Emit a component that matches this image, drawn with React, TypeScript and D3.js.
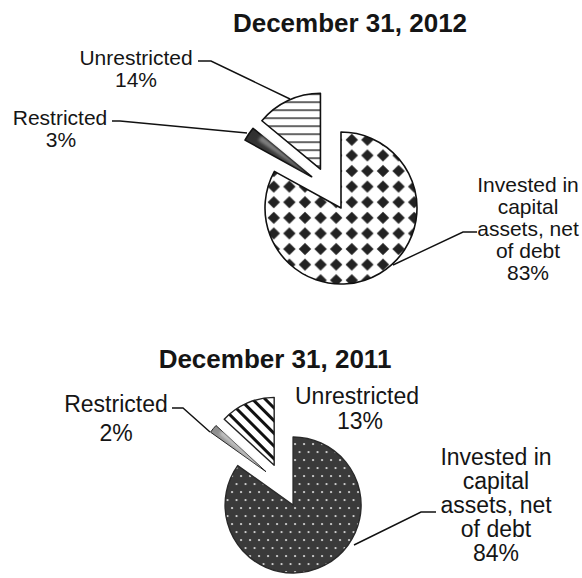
import React from "react";
import * as d3 from "d3";

const categories = ["Invested in capital assets, net of debt", "Restricted", "Unrestricted"];
const values2012 = [83, 3, 14];
const values2011 = [84, 2, 13];
const titles = ["December 31, 2012", "December 31, 2011"];

type Slice = d3.PieArcDatum<number>;

const pieGen = d3.pie<number>().sort(null).value((d) => d);

function explode(s: Slice, d: number) {
  const mid = (s.startAngle + s.endAngle) / 2;
  return [d * Math.sin(mid), -d * Math.cos(mid)];
}

export default function App() {
  const W = 582, H = 578;
  const top = { cx: 329.8, cy: 189.1, r: 76, ex: 22 };
  const bot = { cx: 283, cy: 485.5, r: 68, ex: 22 };
  const arcTop = d3.arc<Slice>().innerRadius(0).outerRadius(top.r);
  const arcBot = d3.arc<Slice>().innerRadius(0).outerRadius(bot.r);
  const pTop = pieGen(values2012);
  const pBot = pieGen(values2011);

  const fillsTop = ["url(#diamonds)", "url(#restrTop)", "url(#hlines)"];
  const fillsBot = ["url(#dots)", "url(#restrBot)", "url(#dlines)"];

  const hiTop = d3.arc<any>().innerRadius(6).outerRadius(top.r * 0.85);
  const hiBot = d3.arc<any>().innerRadius(6).outerRadius(bot.r * 0.88);

  const textCol = "#151515";
  const font = "'Liberation Sans', Arial, Helvetica, sans-serif";

  const linesTop = ["Invested in", "capital", "assets, net", "of debt", "83%"];
  const linesBot = ["Invested in", "capital", "assets, net", "of debt", "84%"];

  return (
    <svg width={W} height={H} style={{ position: "absolute", left: 0, top: 0, background: "#fff" }} fontFamily={font}>
      <defs>
        <pattern id="diamonds" patternUnits="userSpaceOnUse" width={15.6} height={15.6} x={3} y={2}>
          <rect width={15.6} height={15.6} fill="#fff" />
          <path d="M7.8,1.6 L14,7.8 L7.8,14 L1.6,7.8 Z" fill="#222" />
        </pattern>
        <pattern id="hlines" patternUnits="userSpaceOnUse" width={8} height={8} y={1}>
          <rect width={8} height={8} fill="#fff" />
          <line x1={0} x2={8} y1={4} y2={4} stroke="#111" strokeWidth={1.3} />
        </pattern>
        <pattern id="dlines" patternUnits="userSpaceOnUse" width={9} height={9} patternTransform="rotate(45)">
          <rect width={9} height={9} fill="#fff" />
          <line x1={0} x2={9} y1={4.5} y2={4.5} stroke="#111" strokeWidth={3} />
        </pattern>
        <pattern id="dots" patternUnits="userSpaceOnUse" width={9} height={16}>
          <rect width={9} height={16} fill="#3a3a3a" />
          <circle cx={2} cy={3} r={1.1} fill="#e0e0e0" />
          <circle cx={6.5} cy={11} r={1.1} fill="#e0e0e0" />
        </pattern>
        <linearGradient id="restrTop" x1="0" y1="0" x2="1" y2="1">
          <stop offset="0" stopColor="#2e2e2e" />
          <stop offset="1" stopColor="#454545" />
        </linearGradient>
        <linearGradient id="restrBot" x1="0" y1="0" x2="1" y2="1">
          <stop offset="0" stopColor="#8a8a8a" />
          <stop offset="1" stopColor="#b8b8b8" />
        </linearGradient>
        <filter id="soft" x="-50%" y="-50%" width="200%" height="200%">
          <feGaussianBlur stdDeviation="1.6" />
        </filter>
      </defs>

      <text x={350} y={32} textAnchor="middle" fontSize={26} fontWeight="bold" fill={textCol}>{titles[0]}</text>
      <text x={275} y={368} textAnchor="middle" fontSize={26} fontWeight="bold" fill={textCol}>{titles[1]}</text>

      <g transform={`translate(${top.cx},${top.cy})`}>
        {pTop.map((s, i) => {
          const [dx, dy] = explode(s, top.ex);
          return (
            <g key={i} transform={`translate(${dx},${dy})`}>
              <path d={arcTop(s) || ""} fill={fillsTop[i]} stroke="#111" strokeWidth={1.6} strokeLinejoin="round" />
              {i === 1 && (
                <path
                  d={hiTop({ startAngle: (s.startAngle + s.endAngle) / 2, endAngle: s.endAngle }) || ""}
                  fill="#9a9a9a"
                  opacity={0.75}
                  filter="url(#soft)"
                />
              )}
            </g>
          );
        })}
      </g>

      <g transform={`translate(${bot.cx},${bot.cy})`}>
        {pBot.map((s, i) => {
          const [dx, dy] = explode(s, bot.ex);
          return (
            <g key={i} transform={`translate(${dx},${dy})`}>
              <path d={arcBot(s) || ""} fill={fillsBot[i]} stroke={i === 0 ? "#2a2a2a" : "#222"} strokeWidth={i === 1 ? 1 : 1.4} strokeLinejoin="round" />
              {i === 1 && (
                <path
                  d={hiBot({ startAngle: (s.startAngle + s.endAngle) / 2, endAngle: s.endAngle }) || ""}
                  fill="#d6d6d6"
                  opacity={0.8}
                  filter="url(#soft)"
                />
              )}
            </g>
          );
        })}
      </g>

      <g fontSize={21} fill={textCol} textAnchor="middle">
        <text x={136} y={65}>{categories[2]}</text>
        <text x={136} y={87}>{values2012[2]}%</text>
        <text x={60} y={125}>{categories[1]}</text>
        <text x={61} y={147}>{values2012[1]}%</text>
        {linesTop.map((t, i) => (
          <text key={i} x={528} y={192 + i * 22}>{t}</text>
        ))}
      </g>
      <g fill="none" stroke="#111" strokeWidth={1.4}>
        <polyline points="198,61 211,61 290,99" />
        <polyline points="112,121 120,121 247,133" />
        <polyline points="477,232 463,232 393,265" />
      </g>

      <g fontSize={23} fill={textCol} textAnchor="middle">
        <text x={116} y={412}>{categories[1]}</text>
        <text x={116} y={441}>{values2011[1]}%</text>
        <text x={357} y={404}>{categories[2]}</text>
        <text x={360} y={429}>{values2011[2]}%</text>
        {linesBot.map((t, i) => (
          <text key={i} x={496} y={465 + i * 24}>{t}</text>
        ))}
      </g>
      <g fill="none" stroke="#111" strokeWidth={1.4}>
        <polyline points="172,408 183,408 210,432" />
        <polyline points="436,512 421,512 354,545" />
      </g>
    </svg>
  );
}
